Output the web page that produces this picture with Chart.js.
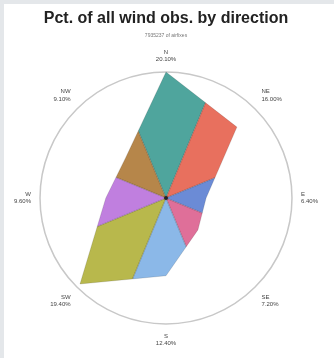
<!DOCTYPE html>
<html>
<head>
<meta charset="utf-8">
<script src="https://cdn.jsdelivr.net/npm/chart.js@4.4.1/dist/chart.umd.min.js"></script>
<style>
  html, body { margin: 0; padding: 0; background: #e4e7ea; }
  #wrap { position: absolute; left: 4px; top: 4px; width: 330px; height: 354px; background: #fff; }
</style>
</head>
<body>
<div id="wrap"><canvas id="windChart"></canvas></div>
<script>
// compass directions and share of observations (%)
const directions = ["N", "NE", "E", "SE", "S", "SW", "W", "NW"];
const pctObs = [20.1, 16.0, 6.4, 7.2, 12.4, 19.4, 9.6, 9.1];
const sectorColors = ["#4fa59d", "#e8705e", "#6b8bd6", "#df6f99", "#8bb8e8", "#b8b84c", "#c07fdf", "#b6864a"];

const titleText = "Pct. of all wind obs. by direction";
const subtitleText = "7935237 of airfixes";

// paints each direction's wedge of the filled radar outline in its own colour
const sectorFill = {
  id: "sectorFill",
  afterDatasetsDraw(chart) {
    const ctx = chart.ctx;
    const scale = chart.scales.r;
    const pts = chart.getDatasetMeta(0).data;
    const cx = scale.xCenter, cy = scale.yCenter;
    const step = (2 * Math.PI) / pts.length;
    const outline = () => {
      ctx.beginPath();
      pts.forEach((q, j) => j ? ctx.lineTo(q.x, q.y) : ctx.moveTo(q.x, q.y));
      ctx.closePath();
    };
    const wedge = (a) => {
      ctx.beginPath();
      ctx.moveTo(cx, cy);
      ctx.arc(cx, cy, scale.drawingArea * 2, a - step / 2, a + step / 2);
      ctx.closePath();
    };
    pts.forEach((p, i) => {
      const a = scale.getIndexAngle(i) - Math.PI / 2;
      ctx.save();
      wedge(a);
      ctx.clip();
      outline();
      ctx.fillStyle = sectorColors[i];
      ctx.fill();
      ctx.clip();
      // darker rim along the wedge borders
      wedge(a);
      ctx.strokeStyle = "rgba(50,50,50,0.3)";
      ctx.lineWidth = 1.2;
      ctx.stroke();
      ctx.restore();
    });
    ctx.save();
    outline();
    ctx.strokeStyle = "rgba(50,50,50,0.2)";
    ctx.lineWidth = 0.8;
    ctx.stroke();
    ctx.fillStyle = "#222";
    ctx.beginPath();
    ctx.arc(cx, cy, 2, 0, 2 * Math.PI);
    ctx.fill();
    ctx.restore();
  }
};

new Chart(document.getElementById("windChart"), {
  type: "radar",
  data: {
    labels: directions,
    datasets: [{
      data: pctObs,
      backgroundColor: "rgba(0,0,0,0)",
      borderWidth: 0,
      pointRadius: 0
    }]
  },
  options: {
    responsive: true,
    maintainAspectRatio: false,
    animation: false,
    layout: { padding: { left: 10, right: 16, top: 0, bottom: 4 } },
    plugins: {
      legend: { display: false },
      tooltip: { enabled: false },
      title: {
        display: true,
        text: titleText,
        color: "#222",
        font: { family: "Liberation Sans", size: 16, weight: "bold" },
        padding: { top: 5, bottom: 4 }
      },
      subtitle: {
        display: true,
        text: subtitleText,
        color: "#777",
        font: { family: "Liberation Sans", size: 5 },
        padding: { bottom: 5 }
      }
    },
    scales: {
      r: {
        min: 0,
        max: Math.max(...pctObs),
        ticks: { display: false, stepSize: Math.max(...pctObs) },
        angleLines: { display: false },
        grid: { circular: true, color: "#c8c8c8", lineWidth: 1.5 },
        pointLabels: {
          color: "#444",
          padding: 9,
          font: { family: "Liberation Sans", size: 6 },
          callback: (label, i) => [label, pctObs[i].toFixed(2) + "%"]
        }
      }
    }
  },
  plugins: [sectorFill]
});
</script>
</body>
</html>
